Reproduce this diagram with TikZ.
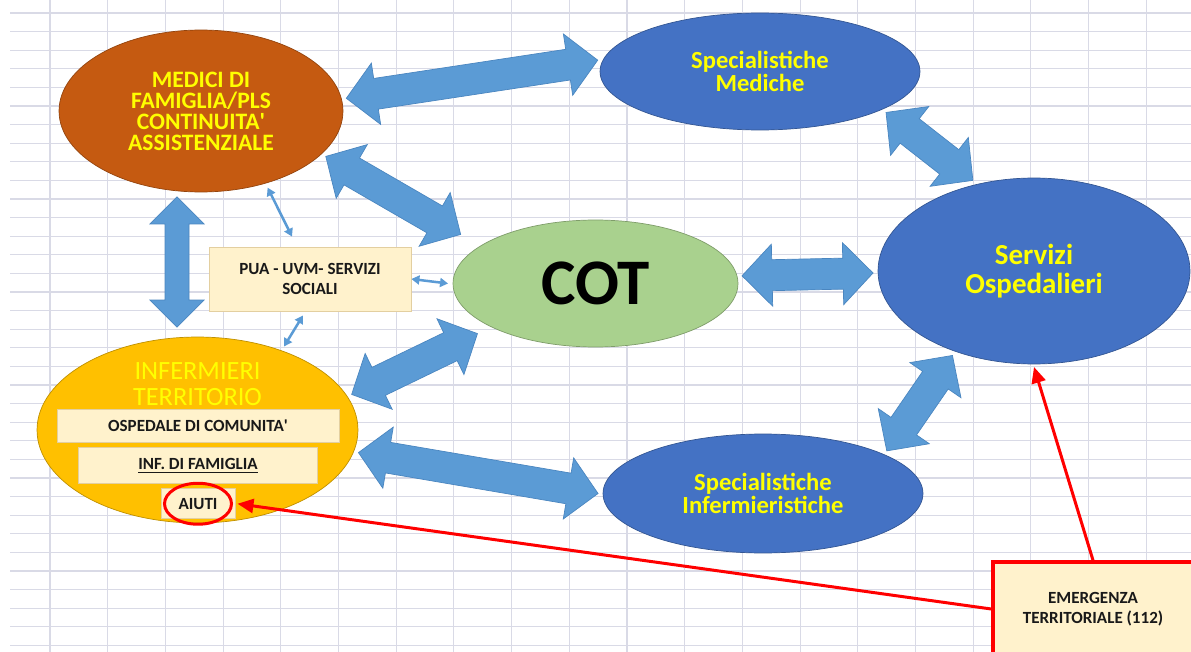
\documentclass[tikz,border=0pt]{standalone}
\usepackage{fontspec}
\setmainfont{Carlito}
\usepackage{xcolor}
\usepackage{tikz}
\usetikzlibrary{shapes.geometric, positioning, calc, arrows.meta}

\definecolor{medbrown}{HTML}{C55A11}
\definecolor{ellblue}{HTML}{4472C4}
\definecolor{cotgreen}{HTML}{A9D18E}
\definecolor{infgold}{HTML}{FFC000}
\definecolor{arrblue}{HTML}{5B9BD5}
\definecolor{arredge}{HTML}{4A86C0}
\definecolor{boxcream}{HTML}{FFF2CC}
\definecolor{boxedge}{HTML}{E3CFA0}
\definecolor{txtyellow}{HTML}{FFFF00}
\definecolor{gridgray}{HTML}{D9DAE6}
\definecolor{alertred}{HTML}{FF0000}

% double block arrow: tip, tip, shaft half width, head half width, head length
\newcommand{\dblarrow}[5]{%
  \path (#1) coordinate (ta) (#2) coordinate (tb);
  \path ($(ta)!#5!(tb)$) coordinate (ha) ($(tb)!#5!(ta)$) coordinate (hb);
  \filldraw[blockarrow] (ta) -- ($(ha)!#4!90:(tb)$) -- ($(ha)!#3!90:(tb)$)
    -- ($(hb)!#3!-90:(ta)$) -- ($(hb)!#4!-90:(ta)$) -- (tb)
    -- ($(hb)!#4!90:(ta)$) -- ($(hb)!#3!90:(ta)$)
    -- ($(ha)!#3!-90:(tb)$) -- ($(ha)!#4!-90:(tb)$) -- cycle;
}

\begin{document}
\begin{tikzpicture}[x=0.02cm, y=-0.02cm,
    gridline/.style={draw=gridgray, line width=0.6pt},
    bubble/.style={ellipse, inner sep=0pt, outer sep=0.1cm, draw=#1!75!black, fill=#1, line width=0.4pt},
    yeltext/.style={text=txtyellow, align=center},
    creambox/.style={rectangle, inner sep=0pt, fill=boxcream, draw=boxedge, line width=0.5pt,
      align=center, font=\fontsize{9.7}{11.4}\selectfont\bfseries, text=black!90},
    blockarrow/.style={fill=arrblue, draw=arredge, line width=0.4pt},
    thinarrow/.style={{Triangle[length=0.16cm,width=0.18cm]}-{Triangle[length=0.16cm,width=0.18cm]}, draw=arrblue, line width=0.05cm},
    redarrow/.style={-{Triangle[length=0.32cm,width=0.28cm]}, draw=alertred, line width=0.06cm}]

  \fill[white] (0,0) rectangle (1191,652);
  \useasboundingbox (0,0) rectangle (1191,652);
  \clip (0,0) rectangle (1191,652);

  % spreadsheet grid
  \foreach \gx in {0,...,19}
    \draw[gridline] ({50+57.7*\gx},0) -- ({50+57.7*\gx},652);
  \foreach \gy in {0,...,34}
    \draw[gridline] (10,{13+18.6*\gy}) -- (1191,{13+18.6*\gy});

  \node[bubble=medbrown, minimum width=5.68cm, minimum height=3.24cm, yeltext,
    font=\fontsize{13.4}{12}\selectfont\bfseries] (med) at (201,111)
    {MEDICI DI\\FAMIGLIA/PLS\\CONTINUITA\textquotesingle\\ASSISTENZIALE};
  \node[bubble=ellblue, minimum width=6.4cm, minimum height=2.34cm, yeltext,
    font=\fontsize{14}{12}\selectfont\bfseries] (spm) at (760,71.5) {Specialistiche\\Mediche};
  \node[bubble=cotgreen, minimum width=5.7cm, minimum height=2.54cm,
    font=\fontsize{37}{40}\selectfont\bfseries] (cot) at (595.5,283.5) {COT};
  \node[bubble=ellblue, minimum width=6.24cm, minimum height=3.72cm, yeltext,
    font=\fontsize{16.5}{16.5}\selectfont\bfseries] (srv) at (1034,271) {Servizi\\Ospedalieri};
  \node[bubble=ellblue, minimum width=6.4cm, minimum height=2.38cm, yeltext,
    font=\fontsize{14}{12}\selectfont\bfseries] (spi) at (763,493.5) {Specialistiche\\Infermieristiche};
  \node[bubble=infgold, minimum width=6.42cm, minimum height=3.72cm] (inf) at (197.5,430) {};
  \node[yeltext, inner sep=0pt, font=\fontsize{15}{15}\selectfont] (inft) at (197.5,384)
    {INFERMIERI\\TERRITORIO};

  \node[creambox, minimum width=5.64cm, minimum height=0.66cm] (osp) at (198,425.5) {OSPEDALE DI COMUNITA\textquotesingle};
  \node[creambox, below=0.1cm of osp, minimum width=4.78cm, minimum height=0.72cm] (fam) {\underline{INF. DI FAMIGLIA}};
  \node[creambox, below=0.08cm of fam, minimum width=1.48cm, minimum height=0.6cm] (aiu) {AIUTI};
  \node[ellipse, draw=alertred, line width=1.7pt, minimum width=1.34cm, minimum height=0.82cm,
    outer sep=0.12cm] (aiuc) at (aiu) {};

  \node[creambox, minimum width=4.04cm, minimum height=1.28cm] (pua) at (310,279) {PUA - UVM- SERVIZI\\SOCIALI};
  \node[creambox, draw=alertred, line width=2pt, minimum width=4cm, minimum height=1.88cm] (emg) at (1093,609)
    {EMERGENZA\\TERRITORIALE (112)};

  % block arrows
  \coordinate (cotnw) at ($(cot.160)!-0.4cm!(cot.center)$);
  \coordinate (cotsw) at ($(cot.203)!-0.2cm!(cot.center)$);
  \dblarrow{med.5}{spm.176}{0.31cm}{0.62cm}{0.6cm}
  \dblarrow{med.340}{cotnw}{0.31cm}{0.62cm}{0.6cm}
  \dblarrow{[xshift=-0.48cm]med.south}{[xshift=-0.41cm,yshift=0.1cm]inf.north}{0.24cm}{0.54cm}{0.54cm}
  \dblarrow{inf.13}{cotsw}{0.31cm}{0.62cm}{0.6cm}
  \dblarrow{cot.3}{[yshift=-0.04cm]srv.west}{0.31cm}{0.62cm}{0.6cm}
  \dblarrow{spm.342}{srv.124}{0.31cm}{0.62cm}{0.6cm}
  \dblarrow{srv.226}{spi.19}{0.31cm}{0.62cm}{0.6cm}
  \dblarrow{inf.352}{spi.west}{0.31cm}{0.62cm}{0.6cm}

  \draw[thinarrow] (med.311) -- ([xshift=-0.36cm,yshift=0.2cm]pua.north);
  \draw[thinarrow] (pua.east) -- (cot.west);
  \draw[thinarrow] ([xshift=-0.14cm,yshift=-0.08cm]pua.south) -- (inf.44);

  \draw[redarrow] (emg.west) -- (aiuc.east);
  \draw[redarrow] (emg.north) -- ([yshift=0.04cm]srv.south);
\end{tikzpicture}
\end{document}
